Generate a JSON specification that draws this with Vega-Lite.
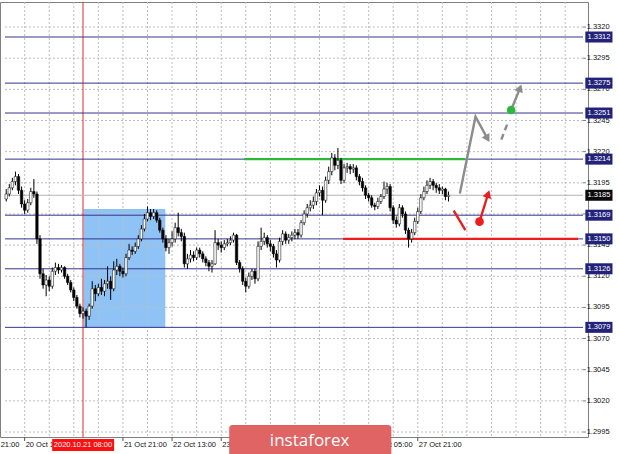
{
  "$schema": "https://vega.github.io/schema/vega-lite/v6.json",
  "width": 588,
  "height": 435,
  "autosize": {"type": "none"},
  "padding": {"left": 0, "top": 2, "right": 32, "bottom": 17},
  "background": "white",
  "config": {"view": {"stroke": "#7f7f7f", "strokeWidth": 1}, "font": "Liberation Sans", "axis": {"disable": true}},
  "datasets": {
    "candles": [
      {"t":-6,"o":1.3182,"h":1.3190,"l":1.3180,"c":1.3186},{"t":-5,"o":1.3186,"h":1.3194,"l":1.3184,"c":1.3191},
      {"t":-4,"o":1.3191,"h":1.3199,"l":1.3189,"c":1.3196},{"t":-3,"o":1.3196,"h":1.3204,"l":1.3193,"c":1.3200},
      {"t":-2,"o":1.3200,"h":1.3202,"l":1.3186,"c":1.3189},{"t":-1,"o":1.3189,"h":1.3192,"l":1.3175,"c":1.3178},
      {"t":0,"o":1.3178,"h":1.3181,"l":1.3170,"c":1.3173},{"t":1,"o":1.3173,"h":1.3182,"l":1.3171,"c":1.3179},
      {"t":2,"o":1.3179,"h":1.3191,"l":1.3177,"c":1.3188},{"t":3,"o":1.3188,"h":1.3198,"l":1.3183,"c":1.3186},
      {"t":4,"o":1.3186,"h":1.3188,"l":1.3146,"c":1.3150},{"t":5,"o":1.3150,"h":1.3153,"l":1.3118,"c":1.3122},
      {"t":6,"o":1.3122,"h":1.3126,"l":1.3110,"c":1.3113},{"t":7,"o":1.3113,"h":1.3121,"l":1.3104,"c":1.3117},
      {"t":8,"o":1.3117,"h":1.3120,"l":1.3108,"c":1.3112},{"t":9,"o":1.3112,"h":1.3127,"l":1.3110,"c":1.3124},
      {"t":10,"o":1.3124,"h":1.3131,"l":1.3121,"c":1.3127},{"t":11,"o":1.3127,"h":1.3130,"l":1.3122,"c":1.3125},
      {"t":12,"o":1.3125,"h":1.3129,"l":1.3123,"c":1.3127},{"t":13,"o":1.3127,"h":1.3128,"l":1.3118,"c":1.3120},
      {"t":14,"o":1.3120,"h":1.3122,"l":1.3113,"c":1.3115},{"t":15,"o":1.3115,"h":1.3117,"l":1.3107,"c":1.3109},
      {"t":16,"o":1.3109,"h":1.3111,"l":1.3100,"c":1.3103},{"t":17,"o":1.3103,"h":1.3105,"l":1.3094,"c":1.3096},
      {"t":18,"o":1.3096,"h":1.3098,"l":1.3087,"c":1.3090},{"t":19,"o":1.3090,"h":1.3095,"l":1.3086,"c":1.3092},
      {"t":20,"o":1.3092,"h":1.3094,"l":1.3079,"c":1.3088},{"t":21,"o":1.3088,"h":1.3098,"l":1.3085,"c":1.3096},
      {"t":22,"o":1.3096,"h":1.3116,"l":1.3094,"c":1.3110},{"t":23,"o":1.3110,"h":1.3113,"l":1.3100,"c":1.3106},
      {"t":24,"o":1.3106,"h":1.3114,"l":1.3104,"c":1.3111},{"t":25,"o":1.3111,"h":1.3118,"l":1.3105,"c":1.3108},
      {"t":26,"o":1.3108,"h":1.3117,"l":1.3104,"c":1.3114},{"t":27,"o":1.3114,"h":1.3128,"l":1.3110,"c":1.3116},
      {"t":28,"o":1.3116,"h":1.3120,"l":1.3101,"c":1.3110},{"t":29,"o":1.3110,"h":1.3132,"l":1.3108,"c":1.3125},
      {"t":30,"o":1.3125,"h":1.3134,"l":1.3121,"c":1.3128},{"t":31,"o":1.3128,"h":1.3130,"l":1.3120,"c":1.3124},
      {"t":32,"o":1.3124,"h":1.3127,"l":1.3119,"c":1.3122},{"t":33,"o":1.3122,"h":1.3138,"l":1.3120,"c":1.3135},
      {"t":34,"o":1.3135,"h":1.3146,"l":1.3133,"c":1.3141},{"t":35,"o":1.3141,"h":1.3144,"l":1.3137,"c":1.3140},
      {"t":36,"o":1.3140,"h":1.3147,"l":1.3138,"c":1.3144},{"t":37,"o":1.3144,"h":1.3153,"l":1.3142,"c":1.3150},
      {"t":38,"o":1.3150,"h":1.3161,"l":1.3148,"c":1.3158},{"t":39,"o":1.3158,"h":1.3170,"l":1.3156,"c":1.3166},
      {"t":40,"o":1.3166,"h":1.3176,"l":1.3164,"c":1.3171},{"t":41,"o":1.3171,"h":1.3174,"l":1.3165,"c":1.3168},
      {"t":42,"o":1.3168,"h":1.3174,"l":1.3166,"c":1.3171},{"t":43,"o":1.3171,"h":1.3173,"l":1.3163,"c":1.3165},
      {"t":44,"o":1.3165,"h":1.3167,"l":1.3155,"c":1.3157},{"t":45,"o":1.3157,"h":1.3159,"l":1.3147,"c":1.3150},
      {"t":46,"o":1.3150,"h":1.3153,"l":1.3140,"c":1.3143},{"t":47,"o":1.3143,"h":1.3150,"l":1.3138,"c":1.3147},
      {"t":48,"o":1.3147,"h":1.3156,"l":1.3144,"c":1.3150},{"t":49,"o":1.3150,"h":1.3163,"l":1.3147,"c":1.3159},
      {"t":50,"o":1.3159,"h":1.3171,"l":1.3152,"c":1.3155},{"t":51,"o":1.3155,"h":1.3158,"l":1.3148,"c":1.3152},
      {"t":52,"o":1.3152,"h":1.3155,"l":1.3127,"c":1.3130},{"t":53,"o":1.3130,"h":1.3138,"l":1.3126,"c":1.3134},
      {"t":54,"o":1.3134,"h":1.3141,"l":1.3131,"c":1.3137},{"t":55,"o":1.3137,"h":1.3140,"l":1.3132,"c":1.3135},
      {"t":56,"o":1.3135,"h":1.3143,"l":1.3133,"c":1.3141},{"t":57,"o":1.3141,"h":1.3143,"l":1.3135,"c":1.3138},
      {"t":58,"o":1.3138,"h":1.3140,"l":1.3131,"c":1.3134},{"t":59,"o":1.3134,"h":1.3136,"l":1.3128,"c":1.3131},
      {"t":60,"o":1.3131,"h":1.3133,"l":1.3124,"c":1.3128},{"t":61,"o":1.3128,"h":1.3133,"l":1.3123,"c":1.3130},
      {"t":62,"o":1.3130,"h":1.3157,"l":1.3129,"c":1.3147},{"t":63,"o":1.3147,"h":1.3150,"l":1.3141,"c":1.3145},
      {"t":64,"o":1.3145,"h":1.3148,"l":1.3139,"c":1.3143},{"t":65,"o":1.3143,"h":1.3149,"l":1.3141,"c":1.3146},
      {"t":66,"o":1.3146,"h":1.3150,"l":1.3144,"c":1.3147},{"t":67,"o":1.3147,"h":1.3152,"l":1.3145,"c":1.3149},
      {"t":68,"o":1.3149,"h":1.3155,"l":1.3147,"c":1.3153},{"t":69,"o":1.3153,"h":1.3154,"l":1.3129,"c":1.3131},
      {"t":70,"o":1.3131,"h":1.3133,"l":1.3123,"c":1.3126},{"t":71,"o":1.3126,"h":1.3128,"l":1.3113,"c":1.3116},
      {"t":72,"o":1.3116,"h":1.3119,"l":1.3107,"c":1.3112},{"t":73,"o":1.3112,"h":1.3123,"l":1.3110,"c":1.3120},
      {"t":74,"o":1.3120,"h":1.3126,"l":1.3117,"c":1.3124},{"t":75,"o":1.3124,"h":1.3126,"l":1.3114,"c":1.3118},
      {"t":76,"o":1.3118,"h":1.3148,"l":1.3116,"c":1.3144},{"t":77,"o":1.3144,"h":1.3159,"l":1.3141,"c":1.3148},
      {"t":78,"o":1.3148,"h":1.3155,"l":1.3145,"c":1.3151},{"t":79,"o":1.3151,"h":1.3153,"l":1.3143,"c":1.3146},
      {"t":80,"o":1.3146,"h":1.3149,"l":1.3140,"c":1.3144},{"t":81,"o":1.3144,"h":1.3146,"l":1.3135,"c":1.3138},
      {"t":82,"o":1.3138,"h":1.3141,"l":1.3127,"c":1.3133},{"t":83,"o":1.3133,"h":1.3151,"l":1.3131,"c":1.3148},
      {"t":84,"o":1.3148,"h":1.3157,"l":1.3145,"c":1.3154},{"t":85,"o":1.3154,"h":1.3156,"l":1.3146,"c":1.3149},
      {"t":86,"o":1.3149,"h":1.3154,"l":1.3146,"c":1.3151},{"t":87,"o":1.3151,"h":1.3156,"l":1.3148,"c":1.3153},
      {"t":88,"o":1.3153,"h":1.3158,"l":1.3150,"c":1.3155},{"t":89,"o":1.3155,"h":1.3158,"l":1.3150,"c":1.3153},
      {"t":90,"o":1.3153,"h":1.3165,"l":1.3151,"c":1.3163},{"t":91,"o":1.3163,"h":1.3173,"l":1.3161,"c":1.3170},
      {"t":92,"o":1.3170,"h":1.3178,"l":1.3167,"c":1.3175},{"t":93,"o":1.3175,"h":1.3181,"l":1.3172,"c":1.3177},
      {"t":94,"o":1.3177,"h":1.3184,"l":1.3174,"c":1.3180},{"t":95,"o":1.3180,"h":1.3190,"l":1.3177,"c":1.3187},
      {"t":96,"o":1.3187,"h":1.3193,"l":1.3184,"c":1.3189},{"t":97,"o":1.3189,"h":1.3192,"l":1.3169,"c":1.3181},
      {"t":98,"o":1.3181,"h":1.3200,"l":1.3179,"c":1.3197},{"t":99,"o":1.3197,"h":1.3208,"l":1.3194,"c":1.3204},
      {"t":100,"o":1.3204,"h":1.3219,"l":1.3201,"c":1.3215},{"t":101,"o":1.3215,"h":1.3218,"l":1.3205,"c":1.3209},
      {"t":102,"o":1.3209,"h":1.3223,"l":1.3206,"c":1.3213},{"t":103,"o":1.3213,"h":1.3215,"l":1.3194,"c":1.3197},
      {"t":104,"o":1.3197,"h":1.3210,"l":1.3195,"c":1.3207},{"t":105,"o":1.3207,"h":1.3211,"l":1.3203,"c":1.3208},
      {"t":106,"o":1.3208,"h":1.3210,"l":1.3202,"c":1.3206},{"t":107,"o":1.3206,"h":1.3210,"l":1.3203,"c":1.3207},
      {"t":108,"o":1.3207,"h":1.3209,"l":1.3197,"c":1.3200},{"t":109,"o":1.3200,"h":1.3202,"l":1.3193,"c":1.3196},
      {"t":110,"o":1.3196,"h":1.3199,"l":1.3188,"c":1.3191},{"t":111,"o":1.3191,"h":1.3193,"l":1.3182,"c":1.3185},
      {"t":112,"o":1.3185,"h":1.3187,"l":1.3180,"c":1.3183},{"t":113,"o":1.3183,"h":1.3185,"l":1.3175,"c":1.3177},
      {"t":114,"o":1.3177,"h":1.3179,"l":1.3173,"c":1.3176},{"t":115,"o":1.3176,"h":1.3183,"l":1.3174,"c":1.3180},
      {"t":116,"o":1.3180,"h":1.3186,"l":1.3178,"c":1.3184},{"t":117,"o":1.3184,"h":1.3196,"l":1.3182,"c":1.3190},
      {"t":118,"o":1.3190,"h":1.3195,"l":1.3186,"c":1.3192},{"t":119,"o":1.3192,"h":1.3194,"l":1.3172,"c":1.3175},
      {"t":120,"o":1.3175,"h":1.3177,"l":1.3162,"c":1.3165},{"t":121,"o":1.3165,"h":1.3168,"l":1.3159,"c":1.3162},
      {"t":122,"o":1.3162,"h":1.3178,"l":1.3160,"c":1.3175},{"t":123,"o":1.3175,"h":1.3177,"l":1.3167,"c":1.3170},
      {"t":124,"o":1.3170,"h":1.3172,"l":1.3154,"c":1.3157},{"t":125,"o":1.3157,"h":1.3159,"l":1.3143,"c":1.3150},
      {"t":126,"o":1.3150,"h":1.3158,"l":1.3147,"c":1.3155},{"t":127,"o":1.3155,"h":1.3167,"l":1.3153,"c":1.3164},
      {"t":128,"o":1.3164,"h":1.3175,"l":1.3162,"c":1.3172},{"t":129,"o":1.3172,"h":1.3186,"l":1.3170,"c":1.3183},
      {"t":130,"o":1.3183,"h":1.3192,"l":1.3181,"c":1.3188},{"t":131,"o":1.3188,"h":1.3197,"l":1.3186,"c":1.3193},
      {"t":132,"o":1.3193,"h":1.3199,"l":1.3190,"c":1.3196},{"t":133,"o":1.3196,"h":1.3198,"l":1.3189,"c":1.3193},
      {"t":134,"o":1.3193,"h":1.3195,"l":1.3187,"c":1.3191},{"t":135,"o":1.3191,"h":1.3194,"l":1.3186,"c":1.3189},
      {"t":136,"o":1.3189,"h":1.3192,"l":1.3186,"c":1.3190},{"t":137,"o":1.3190,"h":1.3191,"l":1.3181,"c":1.3184},
      {"t":138,"o":1.3184,"h":1.3188,"l":1.3180,"c":1.3185}
    ],
    "priceTicks": [
      {"p": 1.2995}, {"p": 1.3020}, {"p": 1.3045}, {"p": 1.3070}, {"p": 1.3095}, {"p": 1.3120}, {"p": 1.3145},
      {"p": 1.3170}, {"p": 1.3195}, {"p": 1.3220}, {"p": 1.3245}, {"p": 1.3270}, {"p": 1.3295}, {"p": 1.3320}
    ],
    "timeGrid": [
      {"t": 0}, {"t": 8}, {"t": 16}, {"t": 24}, {"t": 32}, {"t": 40}, {"t": 48}, {"t": 56}, {"t": 64}, {"t": 72},
      {"t": 80}, {"t": 88}, {"t": 96}, {"t": 104}, {"t": 112}, {"t": 120}, {"t": 128}, {"t": 136}, {"t": 144},
      {"t": 152}, {"t": 160}, {"t": 168}, {"t": 176}
    ],
    "zone": [{"t": 19.2, "t2": 45.8, "p": 1.31739, "p2": 1.30784}],
    "levels": [
      {"p": 1.3312}, {"p": 1.3275}, {"p": 1.3251}, {"p": 1.3214},
      {"p": 1.3169}, {"p": 1.3150}, {"p": 1.3126}, {"p": 1.3079}
    ],
    "bid": [{"p": 1.3185}],
    "segments": [
      {"name": "resistance", "t": 71.4, "t2": 143.4, "p": 1.3214},
      {"name": "support", "t": 103.7, "t2": 180.2, "p": 1.3150}
    ],
    "paths": [
      {"id": "g", "k": 0, "t": 141.7, "p": 1.31865},
      {"id": "g", "k": 1, "t": 146.8, "p": 1.32480},
      {"id": "g", "k": 2, "t": 150.7, "p": 1.32304},
      {"id": "gd", "k": 0, "t": 155.2, "p": 1.32297},
      {"id": "gd", "k": 1, "t": 157.4, "p": 1.32438},
      {"id": "gu", "k": 0, "t": 158.4, "p": 1.32534},
      {"id": "gu", "k": 1, "t": 161.3, "p": 1.32710},
      {"id": "r", "k": 0, "t": 139.7, "p": 1.31726},
      {"id": "r", "k": 1, "t": 143.5, "p": 1.31571},
      {"id": "ru", "k": 0, "t": 148.1, "p": 1.31638},
      {"id": "ru", "k": 1, "t": 150.9, "p": 1.31860}
    ],
    "heads": [
      {"id": "gdown", "t": 150.7, "p": 1.32304},
      {"id": "gup", "t": 161.3, "p": 1.32710},
      {"id": "rup", "t": 150.9, "p": 1.31860}
    ],
    "dots": [
      {"id": "g", "t": 158.4, "p": 1.32534},
      {"id": "r", "t": 148.1, "p": 1.31638}
    ],
    "timeLabels": [
      {"t": -16, "label": "19 Oct 21:00"}, {"t": 0, "label": "20 Oct 13:00"},
      {"t": 32, "label": "21 Oct 21:00"}, {"t": 48, "label": "22 Oct 13:00"},
      {"t": 64, "label": "23 Oct 05:00"}, {"t": 112, "label": "27 Oct 05:00"},
      {"t": 128, "label": "27 Oct 21:00"}
    ],
    "marker": [{"t": 19, "t1": 8.96, "t2": 29.12, "label": "2020.10.21 08:00"}],
    "brand": [{"t": 66.6, "t2": 119.4, "tc": 92.8, "label": "instaforex"}]
  },
  "layer": [
    {
      "data": {"name": "zone"},
      "mark": {"type": "rect", "color": "#8fc3f5"},
      "encoding": {
        "x": {"field": "t", "type": "quantitative", "scale": {"domain": [-6.4, 181.8], "nice": false, "zero": false}},
        "x2": {"field": "t2"},
        "y": {"field": "p", "type": "quantitative", "scale": {"domain": [1.2991, 1.33401], "nice": false, "zero": false}},
        "y2": {"field": "p2"}
      }
    },
    {
      "data": {"name": "priceTicks"},
      "mark": {"type": "rule", "color": "#bdbdbd", "strokeWidth": 1, "strokeDash": [2, 2]},
      "encoding": {
        "x": {"datum": -6.4, "type": "quantitative"},
        "x2": {"datum": 181.8},
        "y": {"field": "p", "type": "quantitative"}
      }
    },
    {
      "data": {"name": "timeGrid"},
      "mark": {"type": "rule", "color": "#bdbdbd", "strokeWidth": 1, "strokeDash": [2, 2]},
      "encoding": {"x": {"field": "t", "type": "quantitative"}}
    },
    {
      "data": {"name": "marker"},
      "mark": {"type": "rule", "color": "#e52a2a", "strokeWidth": 1},
      "encoding": {"x": {"field": "t", "type": "quantitative"}}
    },
    {
      "data": {"name": "bid"},
      "mark": {"type": "rule", "color": "#b4b4b4", "strokeWidth": 1},
      "encoding": {
        "x": {"datum": -6.4, "type": "quantitative"},
        "x2": {"datum": 181.8},
        "y": {"field": "p", "type": "quantitative"}
      }
    },
    {
      "data": {"name": "levels"},
      "mark": {"type": "rule", "color": "#34348e", "strokeWidth": 1},
      "encoding": {
        "x": {"datum": -6.4, "type": "quantitative"},
        "x2": {"datum": 181.8},
        "y": {"field": "p", "type": "quantitative"}
      }
    },
    {
      "data": {"name": "segments"},
      "mark": {"type": "rule", "strokeWidth": 2.2},
      "encoding": {
        "x": {"field": "t", "type": "quantitative"},
        "x2": {"field": "t2"},
        "y": {"field": "p", "type": "quantitative"},
        "color": {"field": "name", "type": "nominal", "legend": null,
                  "scale": {"domain": ["resistance", "support"], "range": ["#2db83d", "#ee1c1c"]}}
      }
    },
    {
      "data": {"name": "candles"},
      "mark": {"type": "rule", "color": "#000000", "strokeWidth": 1},
      "encoding": {
        "x": {"field": "t", "type": "quantitative"},
        "y": {"field": "l", "type": "quantitative"},
        "y2": {"field": "h"}
      }
    },
    {
      "data": {"name": "candles"},
      "mark": {"type": "bar", "size": 2.5, "stroke": "#000000", "strokeWidth": 0.5},
      "encoding": {
        "x": {"field": "t", "type": "quantitative"},
        "y": {"field": "o", "type": "quantitative"},
        "y2": {"field": "c"},
        "fill": {"condition": {"test": "datum.c >= datum.o", "value": "#ffffff"}, "value": "#000000"}
      }
    },
    {
      "data": {"name": "paths"},
      "transform": [{"filter": "datum.id === 'g' || datum.id === 'gu'"}],
      "mark": {"type": "line", "color": "#8c8c8c", "strokeWidth": 2.4},
      "encoding": {
        "x": {"field": "t", "type": "quantitative"},
        "y": {"field": "p", "type": "quantitative"},
        "detail": {"field": "id"},
        "order": {"field": "k"}
      }
    },
    {
      "data": {"name": "paths"},
      "transform": [{"filter": "datum.id === 'gd'"}],
      "mark": {"type": "line", "color": "#8c8c8c", "strokeWidth": 2.4, "strokeDash": [6, 4]},
      "encoding": {
        "x": {"field": "t", "type": "quantitative"},
        "y": {"field": "p", "type": "quantitative"},
        "order": {"field": "k"}
      }
    },
    {
      "data": {"name": "paths"},
      "transform": [{"filter": "datum.id === 'r' || datum.id === 'ru'"}],
      "mark": {"type": "line", "color": "#ee1c1c", "strokeWidth": 2.4},
      "encoding": {
        "x": {"field": "t", "type": "quantitative"},
        "y": {"field": "p", "type": "quantitative"},
        "detail": {"field": "id"},
        "order": {"field": "k"}
      }
    },
    {
      "data": {"name": "heads"},
      "transform": [{"filter": "datum.id === 'gdown'"}],
      "mark": {"type": "point", "shape": "triangle-up", "filled": true, "color": "#8c8c8c", "size": 80, "angle": 150, "opacity": 1},
      "encoding": {"x": {"field": "t", "type": "quantitative"}, "y": {"field": "p", "type": "quantitative"}}
    },
    {
      "data": {"name": "heads"},
      "transform": [{"filter": "datum.id === 'gup'"}],
      "mark": {"type": "point", "shape": "triangle-up", "filled": true, "color": "#8c8c8c", "size": 80, "angle": 21, "opacity": 1},
      "encoding": {"x": {"field": "t", "type": "quantitative"}, "y": {"field": "p", "type": "quantitative"}}
    },
    {
      "data": {"name": "heads"},
      "transform": [{"filter": "datum.id === 'rup'"}],
      "mark": {"type": "point", "shape": "triangle-up", "filled": true, "color": "#ee1c1c", "size": 80, "angle": 18, "opacity": 1},
      "encoding": {"x": {"field": "t", "type": "quantitative"}, "y": {"field": "p", "type": "quantitative"}}
    },
    {
      "data": {"name": "dots"},
      "mark": {"type": "point", "shape": "circle", "filled": true, "size": 75, "opacity": 1},
      "encoding": {
        "x": {"field": "t", "type": "quantitative"},
        "y": {"field": "p", "type": "quantitative"},
        "color": {"field": "id", "type": "nominal", "legend": null,
                  "scale": {"domain": ["g", "r"], "range": ["#8c8c8c", "#ee1c1c"]}}
      }
    },
    {
      "data": {"name": "priceTicks"},
      "mark": {"type": "rule", "color": "#7f7f7f", "strokeWidth": 1},
      "encoding": {
        "x": {"datum": 181.8, "type": "quantitative"},
        "x2": {"datum": 182.76},
        "y": {"field": "p", "type": "quantitative"}
      }
    },
    {
      "data": {"name": "priceTicks"},
      "mark": {"type": "text", "color": "#111111", "font": "Liberation Sans", "fontSize": 7.5, "align": "left", "baseline": "middle"},
      "encoding": {
        "x": {"datum": 183.0, "type": "quantitative"},
        "y": {"field": "p", "type": "quantitative"},
        "text": {"field": "p", "type": "quantitative", "format": ".4f"}
      }
    },
    {
      "data": {"name": "levels"},
      "mark": {"type": "rect", "color": "#22227a", "yOffset": -5.5, "y2Offset": 5.5},
      "encoding": {
        "x": {"datum": 182.56, "type": "quantitative"},
        "x2": {"datum": 191.4},
        "y": {"field": "p", "type": "quantitative"},
        "y2": {"field": "p"}
      }
    },
    {
      "data": {"name": "bid"},
      "mark": {"type": "rect", "color": "#0a0a0a", "yOffset": -5.5, "y2Offset": 5.5},
      "encoding": {
        "x": {"datum": 182.56, "type": "quantitative"},
        "x2": {"datum": 191.4},
        "y": {"field": "p", "type": "quantitative"},
        "y2": {"field": "p"}
      }
    },
    {
      "data": {"name": "levels"},
      "mark": {"type": "text", "color": "#ffffff", "font": "Liberation Sans", "fontSize": 7.5, "align": "center", "baseline": "middle"},
      "encoding": {
        "x": {"datum": 187.0, "type": "quantitative"},
        "y": {"field": "p", "type": "quantitative"},
        "text": {"field": "p", "type": "quantitative", "format": ".4f"}
      }
    },
    {
      "data": {"name": "bid"},
      "mark": {"type": "text", "color": "#ffffff", "font": "Liberation Sans", "fontSize": 7.5, "align": "center", "baseline": "middle"},
      "encoding": {
        "x": {"datum": 187.0, "type": "quantitative"},
        "y": {"field": "p", "type": "quantitative"},
        "text": {"field": "p", "type": "quantitative", "format": ".4f"}
      }
    },
    {
      "data": {"name": "timeLabels"},
      "mark": {"type": "rule", "color": "#555555", "strokeWidth": 1},
      "encoding": {
        "x": {"field": "t", "type": "quantitative"},
        "y": {"datum": 1.2991, "type": "quantitative"},
        "y2": {"datum": 1.29878}
      }
    },
    {
      "data": {"name": "timeLabels"},
      "mark": {"type": "text", "color": "#111111", "font": "Liberation Sans", "fontSize": 7.5, "align": "left", "baseline": "middle", "dx": 1},
      "encoding": {
        "x": {"field": "t", "type": "quantitative"},
        "y": {"datum": 1.29846, "type": "quantitative"},
        "text": {"field": "label"}
      }
    },
    {
      "data": {"name": "marker"},
      "mark": {"type": "rect", "color": "#ff1010"},
      "encoding": {
        "x": {"field": "t1", "type": "quantitative"},
        "x2": {"field": "t2"},
        "y": {"datum": 1.29894, "type": "quantitative"},
        "y2": {"datum": 1.29797}
      }
    },
    {
      "data": {"name": "marker"},
      "mark": {"type": "text", "color": "#ffffff", "font": "Liberation Sans", "fontSize": 7.5, "align": "center", "baseline": "middle"},
      "encoding": {
        "x": {"field": "t", "type": "quantitative"},
        "y": {"datum": 1.29846, "type": "quantitative"},
        "text": {"field": "label"}
      }
    },
    {
      "data": {"name": "brand"},
      "mark": {"type": "rect", "color": "#e06464", "cornerRadius": 3},
      "encoding": {
        "x": {"field": "t", "type": "quantitative"},
        "x2": {"field": "t2"},
        "y": {"datum": 1.30006, "type": "quantitative"},
        "y2": {"datum": 1.2970}
      }
    },
    {
      "data": {"name": "brand"},
      "mark": {"type": "text", "color": "#ffffff", "font": "Open Sans", "fontSize": 17, "align": "center", "baseline": "middle"},
      "encoding": {
        "x": {"field": "tc", "type": "quantitative"},
        "y": {"datum": 1.29878, "type": "quantitative"},
        "text": {"field": "label"}
      }
    }
  ]
}
